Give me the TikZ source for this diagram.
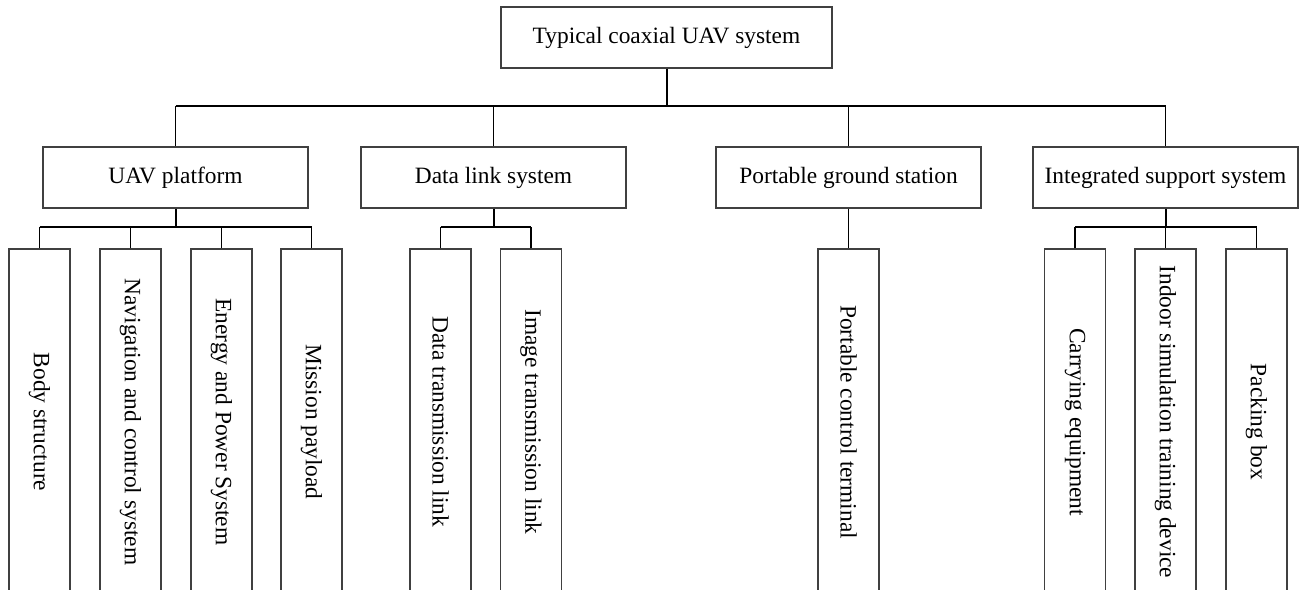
\documentclass[tikz,border=0pt]{standalone}
\usepackage{fontspec}
\setmainfont{Liberation Serif}
\usetikzlibrary{calc}

\tikzset{
	box/.style={draw=black!75, line width=0.6pt, inner sep=0pt,
		minimum width=132.5pt, minimum height=30.5pt, font=\fontsize{11.7}{14}\selectfont},
	leaf/.style={draw=black!75, line width=0.6pt, inner sep=0pt,
		minimum width=173pt, minimum height=30.5pt, rotate=-90,
		font=\fontsize{11.7}{14}\selectfont},
	link/.style={line width=0.6pt},
	stem/.style={line width=1pt},
}

\begin{document}
\begin{tikzpicture}[x=0.5pt, y=-0.5pt]

% frame %{{{2

	\useasboundingbox (0,0) rectangle (1301,589);
	\clip (0,0) rectangle (1301,589);

% parameters %{{{2

	\def\busy{106}
	\def\subbusy{227}
	\def\leafy{422}

% root %{{{2

	\node[box, minimum width=165.5pt] (root) at (666.5,37.5) {Typical coaxial UAV system};

% level two %{{{2

	\node[box] (uav) at (175.5,177.5) {UAV platform};
	\node[box] (data) at (493.5,177.5) {Data link system};
	\node[box] (ground) at (848.5,177.5) {Portable ground station};
	\node[box] (support) at (1165.5,177.5) {Integrated support system};

% leaves %{{{2

	\node[leaf] (body) at (39.5,\leafy) {Body structure};
	\node[leaf] (nav) at (130.5,\leafy) {Navigation and control system};
	\node[leaf] (energy) at (221.5,\leafy) {Energy and Power System};
	\node[leaf] (mission) at (311.5,\leafy) {Mission payload};

	\node[leaf] (dtrans) at (440.5,\leafy) {Data transmission link};
	\node[leaf] (itrans) at (531,\leafy) {Image transmission link};

	\node[leaf] (terminal) at (848.5,\leafy) {Portable control terminal};

	\node[leaf] (carry) at (1075,\leafy) {Carrying equipment};
	\node[leaf] (indoor) at (1165.5,\leafy) {Indoor simulation training device};
	\node[leaf] (packing) at (1256.5,\leafy) {Packing box};

% bus lines %{{{2

	\coordinate (bus) at (0,\busy);
	\coordinate (subbus) at (0,\subbusy);

	\draw[stem] (root.south) -- (root.south |- bus);
	\draw[link] (uav.north |- bus) -- (support.north |- bus);
	\foreach \c in {uav,data,ground,support} {
		\draw[link] (\c.north) -- (\c.north |- bus);
	}

% sub-bus lines %{{{2

	\foreach \p/\a/\b in {uav/body/mission, data/dtrans/itrans, support/carry/packing} {
		\draw[stem] (\p.south) -- (\p.south |- subbus);
		\draw[link] (\a.west |- subbus) -- (\b.west |- subbus);
	}
	\foreach \c in {body,nav,energy,mission,dtrans,itrans,carry,indoor,packing} {
		\draw[link] (\c.west) -- (\c.west |- subbus);
	}
	\draw[link] (ground.south) -- (terminal.west);

% closing %{{{2

\end{tikzpicture}
\end{document}
